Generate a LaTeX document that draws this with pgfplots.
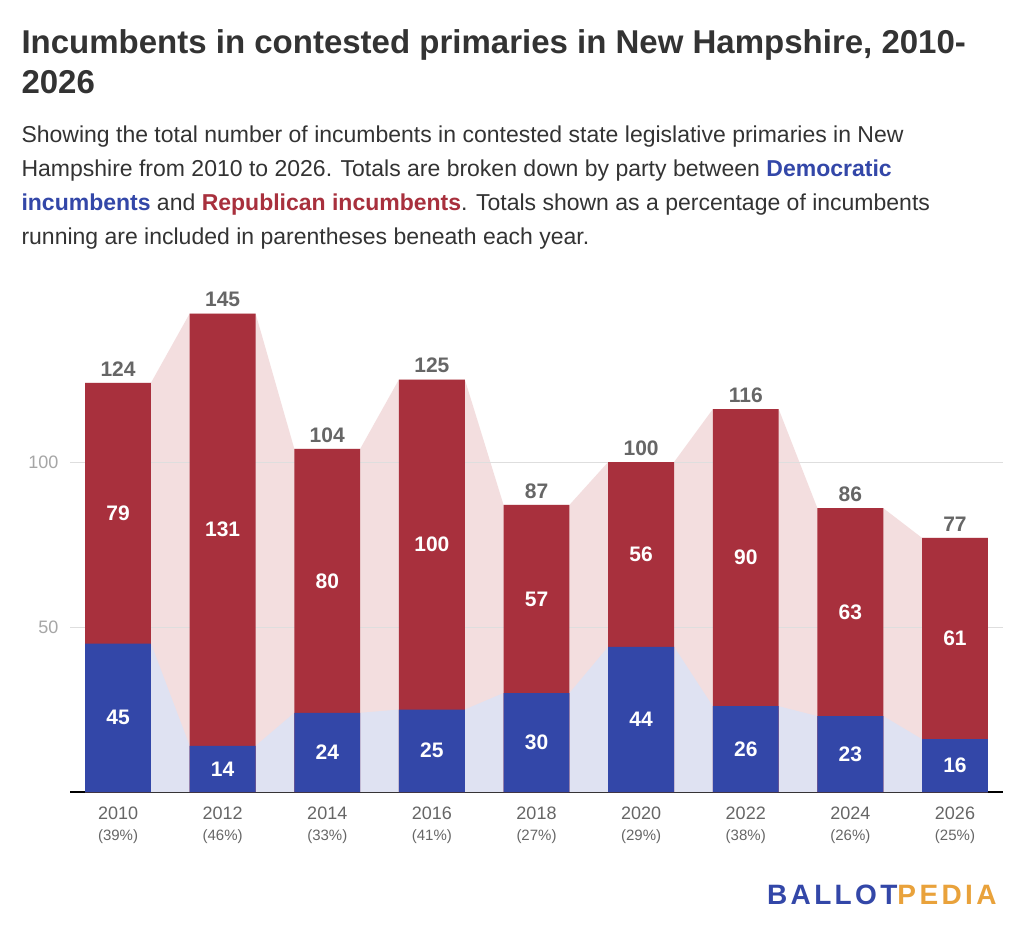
\documentclass[border=0pt]{standalone}
\usepackage{pgfplots}
\pgfplotsset{compat=1.18}
\usepackage{fontspec}
\setmainfont{Liberation Sans}
\definecolor{rep}{HTML}{A8303D}
\definecolor{dem}{HTML}{3347A8}
\definecolor{lrep}{HTML}{F3DEDF}
\definecolor{ldem}{HTML}{DFE2F2}
\definecolor{txt}{HTML}{333333}
\definecolor{lab}{HTML}{666666}
\definecolor{orng}{HTML}{E9A23B}
\begin{document}
\begin{tikzpicture}[x=1pt,y=1pt]
\fill[white] (0,0) rectangle (1024,-933);
\node[anchor=west,text=txt,font=\fontsize{33}{38}\selectfont\bfseries] at (18,-45) {Incumbents in contested primaries in New Hampshire, 2010-};
\node[anchor=west,text=txt,font=\fontsize{33}{38}\selectfont\bfseries] at (18,-82) {2026};
\begin{scope}[every node/.style={anchor=west,text=txt,font=\fontsize{23}{26}\selectfont}]
\node at (18,-137) {Showing the total number of incumbents in contested state legislative primaries in New};
\node at (18,-171) {Hampshire from 2010 to 2026. Totals are broken down by party between \textcolor{dem}{\bfseries Democratic}};
\node at (18,-205) {\textcolor{dem}{\bfseries incumbents} and \textcolor{rep}{\bfseries Republican incumbents}. Totals shown as a percentage of incumbents};
\node at (18,-239) {running are included in parentheses beneath each year.};
\end{scope}
\begin{axis}[at={(70pt,-792pt)},anchor=south west,scale only axis,width=933pt,height=521.4pt,
 xmin=-0.459,xmax=8.459,ymin=0,ymax=158,
 axis x line=bottom, axis y line=none, x axis line style={black,line width=1.2pt,-},
 ytick=\empty,
 xtick={0,...,8}, major tick length=0pt,
 /pgf/number format/assume math mode=true,
 xticklabels={2010\\{\fontsize{15}{17}\selectfont(39\%)},2012\\{\fontsize{15}{17}\selectfont(46\%)},2014\\{\fontsize{15}{17}\selectfont(33\%)},2016\\{\fontsize{15}{17}\selectfont(41\%)},2018\\{\fontsize{15}{17}\selectfont(27\%)},2020\\{\fontsize{15}{17}\selectfont(29\%)},2022\\{\fontsize{15}{17}\selectfont(38\%)},2024\\{\fontsize{15}{17}\selectfont(26\%)},2026\\{\fontsize{15}{17}\selectfont(25\%)}},
 xticklabel style={align=center,text=lab,font=\fontsize{18}{21}\selectfont,inner sep=1pt,yshift=-14pt},
 clip=false]
\addplot[fill=lrep,draw=none] coordinates {(-0.315,124)(0.315,124)(0.685,145)(1.315,145)(1.685,104)(2.315,104)(2.685,125)(3.315,125)(3.685,87)(4.315,87)(4.685,100)(5.315,100)(5.685,116)(6.315,116)(6.685,86)(7.315,86)(7.685,77)(8.315,77)} \closedcycle;
\addplot[fill=ldem,draw=none] coordinates {(-0.315,45)(0.315,45)(0.685,14)(1.315,14)(1.685,24)(2.315,24)(2.685,25)(3.315,25)(3.685,30)(4.315,30)(4.685,44)(5.315,44)(5.685,26)(6.315,26)(6.685,23)(7.315,23)(7.685,16)(8.315,16)} \closedcycle;
\addplot[black!13,line width=0.8pt] coordinates {(-0.459,50)(8.459,50)};
\addplot[black!13,line width=0.8pt] coordinates {(-0.459,100)(8.459,100)};
\addplot[ybar,bar width=0.63,bar shift=0pt,fill=rep,draw=none,
 nodes near coords,nodes near coords style={text=lab,font=\fontsize{21}{24}\selectfont\bfseries,anchor=south,yshift=3pt}] coordinates {(0,124)(1,145)(2,104)(3,125)(4,87)(5,100)(6,116)(7,86)(8,77)};
\addplot[ybar,bar width=0.63,bar shift=0pt,fill=dem,draw=none] coordinates {(0,45)(1,14)(2,24)(3,25)(4,30)(5,44)(6,26)(7,23)(8,16)};
\addplot[only marks,mark=none,nodes near coords,point meta=explicit symbolic,
 nodes near coords style={text=white,font=\fontsize{21}{24}\selectfont\bfseries,anchor=center}]
 table[meta=l] {
x y l
0 22.5 45
1 7 14
2 12 24
3 12.5 25
4 15 30
5 22 44
6 13 26
7 11.5 23
8 8 16
0 84.5 79
1 79.5 131
2 64 80
3 75 100
4 58.5 57
5 72 56
6 71 90
7 54.5 63
8 46.5 61
};
\end{axis}
\node[anchor=east,text=black!35,font=\fontsize{18}{20}\selectfont] at (62,-462) {100};
\node[anchor=east,text=black!35,font=\fontsize{18}{20}\selectfont] at (62,-627) {50};
\node[anchor=east,font=\fontsize{28}{34}\selectfont\bfseries] at (1000,-895) {\addfontfeature{LetterSpace=12}\textcolor{dem}{BALLOT}\textcolor{orng}{PEDIA}};
\end{tikzpicture}
\end{document}
